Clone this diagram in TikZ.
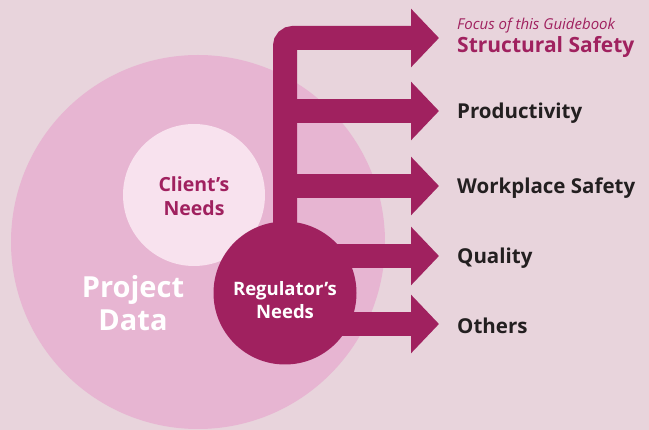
\documentclass[tikz,border=0pt]{standalone}
\usepackage{fontspec}
\setmainfont{Open Sans}
\usetikzlibrary{positioning,arrows.meta}

\definecolor{bgpink}{RGB}{232,212,220}
\definecolor{datapink}{RGB}{231,181,210}
\definecolor{clientpink}{RGB}{248,226,238}
\definecolor{regmagenta}{RGB}{160,33,95}
\definecolor{labelgray}{RGB}{35,31,32}

\tikzset{
	disc/.style={circle, inner sep=0pt, draw=none},
	flow/.style={draw=regmagenta, line width=24pt, -{Triangle[length=28pt,width=57pt]}},
	lbl/.style={anchor=west, inner sep=0pt, yshift=-2pt, text=labelgray, font=\bfseries\fontsize{20.5}{24}\selectfont},
}

\begin{document}
\begin{tikzpicture}[x=1pt,y=-1pt]

	\fill [bgpink] (0,0) rectangle (649,430);
	\useasboundingbox (0,0) rectangle (649,430);
	
	\node [disc, fill=datapink, minimum size=374pt] (data) at (198,242) {};
	\node [disc, fill=clientpink, minimum size=142pt] (client) at (194,195) {};
	\node [disc, fill=regmagenta, minimum size=143pt] (reg) at (285,293) {};
	
	\coordinate (t1) at (439,38);
	\coordinate (t2) at (439,111);
	\coordinate (t3) at (439,186);
	\coordinate (t4) at (439,256);
	\coordinate (t5) at (439,324);
	
	\draw [flow, rounded corners=8pt] (reg.center) |- (t1);
	\draw [flow] (reg.center |- t2) -- (t2);
	\draw [flow] (reg.center |- t3) -- (t3);
	\draw [flow] (reg.center |- t4) -- (t4);
	\draw [flow] (reg.center |- t5) -- (t5);
	
	\node [align=center, text=white, font=\bfseries\fontsize{29}{33}\selectfont] (datatext) at (133,303) {Project\\Data};
	\node [align=center, text=regmagenta, font=\bfseries\fontsize{19.5}{24}\selectfont] (clienttext) at (194,196) {Client’s\\Needs};
	\node [align=center, text=white, font=\bfseries\fontsize{18.5}{23}\selectfont] (regtext) at (285,300) {Regulator’s\\Needs};
	
	\node [lbl, yshift=0pt, text=regmagenta, font=\bfseries\fontsize{21}{24}\selectfont] (safety) at (457,45) {Structural Safety};
	\node [anchor=west, inner sep=0pt, text=regmagenta, font=\itshape\fontsize{15}{17}\selectfont] (focus) at (457,26) {Focus of this Guidebook};
	\node [lbl, right=18pt of t2] (prod) {Productivity};
	\node [lbl, right=18pt of t3] (work) {Workplace Safety};
	\node [lbl, right=18pt of t4] (quality) {Quality};
	\node [lbl, right=18pt of t5] (others) {Others};
\end{tikzpicture}
\end{document}
